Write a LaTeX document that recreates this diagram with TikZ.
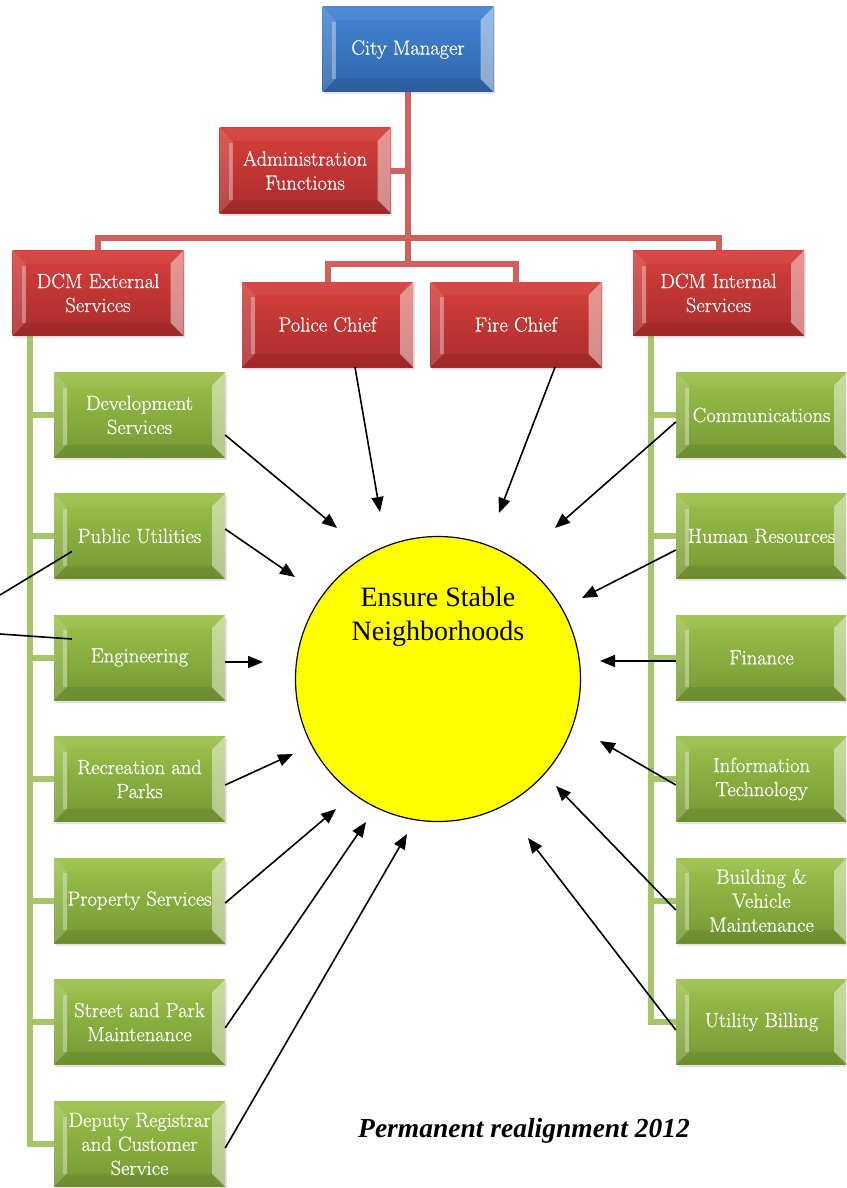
\documentclass[tikz,border=0pt]{standalone}
\usepackage{fontspec}
\newfontfamily\timesfont{Liberation Serif}
\newfontfamily\labelfont{Latin Modern Roman}[FakeBold=0.6]
\usetikzlibrary{arrows.meta,calc,shadows}
\pgfdeclarelayer{bg}
\pgfsetlayers{bg,main}

\definecolor{redline}{HTML}{D0605B}
\definecolor{greenline}{HTML}{A6C667}
\definecolor{goalyellow}{HTML}{FFFF00}

\tikzset{
  x=1pt, y=-1pt,
  bevel/.style={
    path picture={
      \path (path picture bounding box.north west) coordinate (pnw)
            (path picture bounding box.north east) coordinate (pne)
            (path picture bounding box.south west) coordinate (psw)
            (path picture bounding box.south east) coordinate (pse);
      \fill[white,opacity=0.05] (pnw) -- (pne) -- ($(pne)+(-13pt,-13pt)$) -- ($(pnw)+(13pt,-13pt)$) -- cycle;
      \fill[black,opacity=0.07] (psw) -- (pse) -- ($(pse)+(-13pt,13pt)$) -- ($(psw)+(13pt,13pt)$) -- cycle;
      \fill[white,opacity=0.14] (pnw) -- ($(pnw)+(13pt,-13pt)$) -- ($(psw)+(13pt,13pt)$) -- (psw) -- cycle;
      \fill[white,opacity=0.30] ($(pnw)+(9pt,-15pt)$) rectangle ($(psw)+(13pt,13pt)$);
      \fill[white,opacity=0.45] (pne) -- ($(pne)+(-13pt,-13pt)$) -- ($(pse)+(-13pt,13pt)$) -- (pse) -- cycle;
    }},
  unitbox/.style={draw=none, minimum width=171pt, minimum height=85pt,
    inner sep=1pt, align=center, text=white,
    font=\labelfont\fontsize{20.5}{24}\selectfont,
    drop shadow={opacity=0.22, shadow xshift=1.5pt, shadow yshift=-2.5pt},
    bevel},
  bluebox/.style={unitbox, top color={rgb,255:red,70;green,134;blue,212},
    bottom color={rgb,255:red,46;green,100;blue,170}},
  redbox/.style={unitbox, top color={rgb,255:red,214;green,64;blue,60},
    bottom color={rgb,255:red,170;green,44;blue,44}},
  greenbox/.style={unitbox, top color={rgb,255:red,156;green,194;blue,76},
    bottom color={rgb,255:red,116;green,152;blue,50}},
  redconn/.style={draw=redline, line width=6pt, line join=miter},
  greenconn/.style={draw=greenline, line width=6pt, line join=miter},
  feed/.style={draw=black, line width=1.6pt, -{Triangle[length=15pt,width=12pt]}},
  plainfeed/.style={draw=black, line width=1.6pt},
  goal/.style={circle, draw=black, line width=1.2pt, fill=goalyellow,
    minimum size=285pt, inner sep=0pt},
}

\begin{document}
\begin{tikzpicture}
\useasboundingbox (0,0) rectangle (846,1188);
\clip (0,0) rectangle (846,1188);

% leadership
\node[bluebox] (cm) at (408,49.5) {City Manager};
\node[redbox] (adm) at (305,170.5) {Administration\\Functions};
\node[redbox] (ext) at (98,293) {DCM External\\Services};
\node[redbox] (int) at (718.5,293) {DCM Internal\\Services};
\node[redbox] (pol) at (327.5,324.5) {Police Chief};
\node[redbox] (fire) at (516,324.5) {Fire Chief};

% external services
\node[greenbox] (dev) at (139.5,415) {Development\\Services};
\node[greenbox] (pu) at (139.5,536) {Public Utilities};
\node[greenbox] (eng) at (139.5,657.5) {Engineering};
\node[greenbox] (rec) at (139.5,779) {Recreation and\\Parks};
\node[greenbox] (prop) at (139.5,900.5) {Property Services};
\node[greenbox] (street) at (139.5,1022) {Street and Park\\Maintenance};
\node[greenbox] (dep) at (139.5,1144) {Deputy Registrar\\and Customer\\Service};

% internal services
\node[greenbox] (comm) at (761.5,415) {Communications};
\node[greenbox] (hr) at (761.5,536) {Human Resources};
\node[greenbox] (fin) at (761.5,657.5) {Finance};
\node[greenbox] (it) at (761.5,779) {Information\\Technology};
\node[greenbox] (bld) at (761.5,900.5) {Building \&\\Vehicle\\Maintenance};
\node[greenbox] (ub) at (761.5,1022) {Utility Billing};

% goal
\node[goal] (goal) at (438,679) {};
\node[font=\timesfont\fontsize{28}{34}\selectfont, align=center, inner sep=0pt]
  (goaltext) at (438,617) {Ensure Stable\\Neighborhoods};

\node[font=\timesfont\bfseries\itshape\fontsize{27.5}{33}\selectfont, inner sep=0pt,
  anchor=base] (caption) at (524,1137) {Permanent realignment 2012};

% reporting lines
\coordinate (hubA) at (408,238);
\coordinate (hubB) at (408,264);
\coordinate (lrail) at ($(ext.south west)+(18,0)$);
\coordinate (rrail) at ($(int.south west)+(18,0)$);
\begin{pgfonlayer}{bg}
  \draw[redconn] (cm.south) -- (hubB);
  \draw[redconn] (adm.east) -- (adm.east -| hubA);
  \draw[redconn] (ext.north) |- (hubA) -| (int.north);
  \draw[redconn] (pol.north) |- (hubB) -| (fire.north);
  \draw[greenconn] (lrail) |- (dep.west);
  \foreach \n in {dev,pu,eng,rec,prop,street}
    \draw[greenconn] (\n.west) -- (\n.west -| lrail);
  \draw[greenconn] (rrail) |- (ub.west);
  \foreach \n in {comm,hr,fin,it,bld}
    \draw[greenconn] (\n.west) -- (\n.west -| rrail);
\end{pgfonlayer}

% contributions to the goal
\coordinate (tdev) at (337,528);
\coordinate (tpu) at (295,577);
\coordinate (teng) at (263,662);
\coordinate (trec) at (293,754);
\coordinate (tprop) at (336,809);
\coordinate (tstreet) at (366,822);
\coordinate (tdep) at (407,834);
\coordinate (tpol) at (380,512);
\coordinate (tfire) at (499,513);
\coordinate (tcomm) at (555,528);
\coordinate (thr) at (582,598);
\coordinate (tfin) at (600,661);
\coordinate (tit) at (600,741);
\coordinate (tbld) at (556,786);
\coordinate (tub) at (528,838);

\draw[feed] ($(dev.east)+(0,20)$) -- (tdev);
\draw[feed] ($(pu.east)+(0,-7)$) -- (tpu);
\draw[feed] ($(eng.east)+(0,4.5)$) -- (teng);
\draw[feed] ($(rec.east)+(0,6)$) -- (trec);
\draw[feed] ($(prop.east)+(0,2.5)$) -- (tprop);
\draw[feed] ($(street.east)+(0,6)$) -- (tstreet);
\draw[feed] ($(dep.east)+(0,4)$) -- (tdep);
\draw[feed] ($(pol.south)+(27.5,0)$) -- (tpol);
\draw[feed] ($(fire.south)+(39,0)$) -- (tfire);
\draw[feed] ($(comm.west)+(0,7)$) -- (tcomm);
\draw[feed] ($(hr.west)+(0,14)$) -- (thr);
\draw[feed] ($(fin.west)+(0,3.5)$) -- (tfin);
\draw[feed] ($(it.west)+(0,6)$) -- (tit);
\draw[feed] ($(bld.west)+(0,9.5)$) -- (tbld);
\draw[feed] ($(ub.west)+(0,8)$) -- (tub);

% two lines entering from the left margin
\coordinate (offA) at (0,595);
\coordinate (offB) at (0,634);
\draw[plainfeed] (offA) -- ($(pu.west)+(18,15.5)$);
\draw[plainfeed] (offB) -- ($(eng.west)+(18,-18.5)$);
\end{tikzpicture}
\end{document}
